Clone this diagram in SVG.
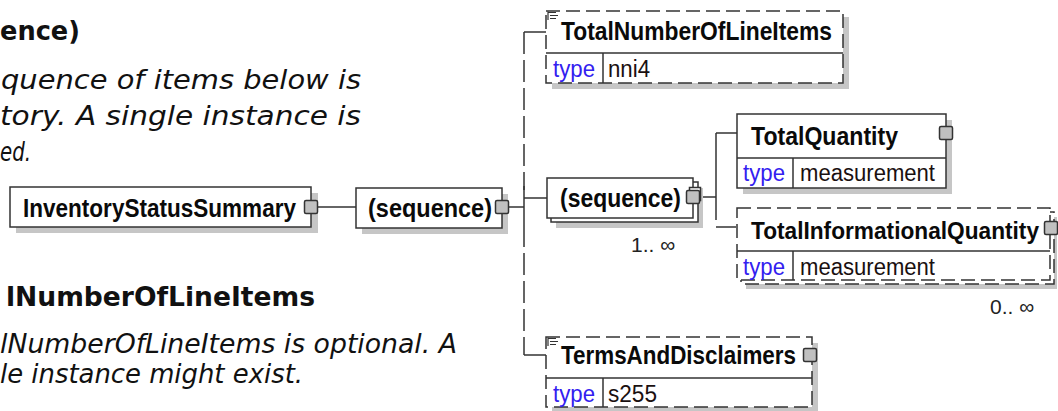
<svg xmlns="http://www.w3.org/2000/svg" width="1058" height="411" viewBox="0 0 1058 411">
<style>
.bg{fill:#ffffff}
.box{fill:#ffffff;stroke:#333333;stroke-width:1.5}
.dash{stroke-dasharray:14 6}
.shadow{fill:#c6c6c6}
.title{font-family:"Liberation Sans",Arial,sans-serif;font-weight:bold;font-size:25px;fill:#0a0a0a}
.val{font-family:"Liberation Sans",Arial,sans-serif;font-size:23px;fill:#1a1010}
.type{font-family:"Liberation Sans",Arial,sans-serif;font-size:23px;fill:#3320f0}
.occ{font-family:"Liberation Sans",Arial,sans-serif;font-size:21px;fill:#222222}
.conn{stroke:#333333;stroke-width:1.5;fill:none}
.port{fill:#c0c0c0;stroke:#333333;stroke-width:1.5}
.h{font-family:"DejaVu Sans",Verdana,sans-serif;font-weight:bold;font-size:27px;fill:#111111}
.it{font-family:"DejaVu Sans",Verdana,sans-serif;font-style:italic;font-size:26px;fill:#111111}
.doc{stroke:#333333;stroke-width:1.2;fill:none}
</style>
<rect class="bg" x="0" y="0" width="1058" height="411"/>

<g id="doc-text">
<text class="h" x="80" y="40" text-anchor="end" textLength="80" lengthAdjust="spacingAndGlyphs">ence)</text>
<text class="it" x="1" y="89" textLength="360" lengthAdjust="spacingAndGlyphs">quence of items below is</text>
<text class="it" x="0" y="125" textLength="361" lengthAdjust="spacingAndGlyphs">tory. A single instance is</text>
<text class="it" x="0" y="161" textLength="31" lengthAdjust="spacingAndGlyphs">ed.</text>
<text class="h" x="6" y="306" textLength="309" lengthAdjust="spacingAndGlyphs">lNumberOfLineItems</text>
<text class="it" x="0" y="353" textLength="457" lengthAdjust="spacingAndGlyphs">lNumberOfLineItems is optional. A</text>
<text class="it" x="0" y="383" textLength="303" lengthAdjust="spacingAndGlyphs">le instance might exist.</text>
</g>

<g id="connectors">
<line class="conn" x1="317" y1="207" x2="356" y2="207"/>
<line class="conn" x1="508" y1="207" x2="524" y2="207"/>
<line class="conn" x1="524" y1="32" x2="524" y2="190" style="stroke-dasharray:22 6"/>
<line class="conn" x1="524" y1="186" x2="524" y2="225"/>
<line class="conn" x1="524" y1="225" x2="524" y2="355" style="stroke-dasharray:22 6"/>
<line class="conn" x1="524" y1="32" x2="546" y2="32"/>
<line class="conn" x1="524" y1="198" x2="547" y2="198"/>
<line class="conn" x1="524" y1="355" x2="546" y2="355"/>
<line class="conn" x1="698" y1="197" x2="716" y2="197"/>
<line class="conn" x1="716" y1="133" x2="716" y2="200"/>
<line class="conn" x1="716" y1="200" x2="716" y2="227" style="stroke-dasharray:20 7"/>
<line class="conn" x1="716" y1="133" x2="737" y2="133"/>
<line class="conn" x1="716" y1="227" x2="737" y2="227" style="stroke-dasharray:20 7"/>
</g>

<g id="InventoryStatusSummary">
<rect class="shadow" x="16" y="193" width="302" height="40"/>
<rect class="box" x="10" y="187" width="301" height="40"/>
<text class="title" x="23" y="217" textLength="273" lengthAdjust="spacingAndGlyphs">InventoryStatusSummary</text>
<rect class="port" x="304.5" y="200.5" width="13" height="13" rx="1.5"/>
</g>

<g id="sequence1">
<rect class="shadow" x="362" y="194" width="146" height="40"/>
<rect class="box" x="356" y="188" width="146" height="40"/>
<text class="title" x="368" y="217" textLength="124" lengthAdjust="spacingAndGlyphs">(sequence)</text>
<rect class="port" x="495.5" y="200.5" width="13" height="13" rx="1.5"/>
</g>

<g id="TotalNumberOfLineItems">
<rect class="shadow" x="552" y="17" width="297" height="72"/>
<rect class="box dash" x="546" y="11" width="297" height="72"/>
<line class="conn" x1="546" y1="53" x2="843" y2="53"/>
<line class="conn" x1="603" y1="53" x2="603" y2="83"/>
<path class="doc" d="M548 11.5 V20 M548 12.5 H556 M550 15.5 H558 M550 18.5 H556"/>
<text class="title" x="561" y="40" textLength="271" lengthAdjust="spacingAndGlyphs">TotalNumberOfLineItems</text>
<text class="type" x="553" y="77" textLength="42" lengthAdjust="spacingAndGlyphs">type</text>
<text class="val" x="608" y="77" textLength="42" lengthAdjust="spacingAndGlyphs">nni4</text>
</g>

<g id="sequence2">
<rect class="shadow" x="556" y="188" width="147" height="40"/>
<rect class="box" x="551" y="182" width="147" height="40"/>
<rect class="box" x="547" y="178" width="146" height="40"/>
<text class="title" x="560" y="207" textLength="121" lengthAdjust="spacingAndGlyphs">(sequence)</text>
<rect class="box" x="689.5" y="187.5" width="11" height="13"/>
<rect class="port" x="686.5" y="190.5" width="13" height="13" rx="1.5"/>
<text class="occ" x="631" y="252">1.. ∞</text>
</g>

<g id="TotalQuantity">
<rect class="shadow" x="743" y="120" width="209" height="74"/>
<rect class="box" x="737" y="114" width="209" height="74"/>
<line class="conn" x1="737" y1="158" x2="946" y2="158"/>
<line class="conn" x1="793" y1="158" x2="793" y2="188"/>
<text class="title" x="751" y="145" textLength="147" lengthAdjust="spacingAndGlyphs">TotalQuantity</text>
<rect class="port" x="939.5" y="126.5" width="13" height="13" rx="1.5"/>
<text class="type" x="743" y="181" textLength="42" lengthAdjust="spacingAndGlyphs">type</text>
<text class="val" x="800" y="181" textLength="135" lengthAdjust="spacingAndGlyphs">measurement</text>
</g>

<g id="TotalInformationalQuantity">
<rect class="shadow" x="746" y="217" width="311" height="72"/>
<rect class="box dash" x="741" y="212" width="313" height="72"/>
<rect class="box dash" x="737" y="208" width="313" height="72"/>
<line class="conn" x1="737" y1="251" x2="1050" y2="251"/>
<line class="conn" x1="793" y1="251" x2="793" y2="280"/>
<rect class="port" x="1044.5" y="221.5" width="13" height="13" rx="1.5"/>
<text class="title" x="751" y="239" style="font-size:23px" textLength="288" lengthAdjust="spacingAndGlyphs">TotalInformationalQuantity</text>
<text class="type" x="743" y="275" textLength="42" lengthAdjust="spacingAndGlyphs">type</text>
<text class="val" x="800" y="275" textLength="135" lengthAdjust="spacingAndGlyphs">measurement</text>
<text class="occ" x="990" y="314">0.. ∞</text>
</g>

<g id="TermsAndDisclaimers">
<rect class="shadow" x="552" y="343" width="266" height="70"/>
<rect class="box dash" x="546" y="337" width="266" height="70"/>
<line class="conn" x1="546" y1="378" x2="812" y2="378"/>
<line class="conn" x1="603" y1="378" x2="603" y2="407"/>
<path class="doc" d="M548 337.5 V346 M548 338.5 H556 M550 341.5 H558 M550 344.5 H556"/>
<text class="title" x="561" y="364" textLength="235" lengthAdjust="spacingAndGlyphs">TermsAndDisclaimers</text>
<rect class="port" x="803.5" y="348.5" width="13" height="13" rx="1.5"/>
<text class="type" x="553" y="402" textLength="42" lengthAdjust="spacingAndGlyphs">type</text>
<text class="val" x="608" y="402" textLength="49" lengthAdjust="spacingAndGlyphs">s255</text>
</g>
</svg>
